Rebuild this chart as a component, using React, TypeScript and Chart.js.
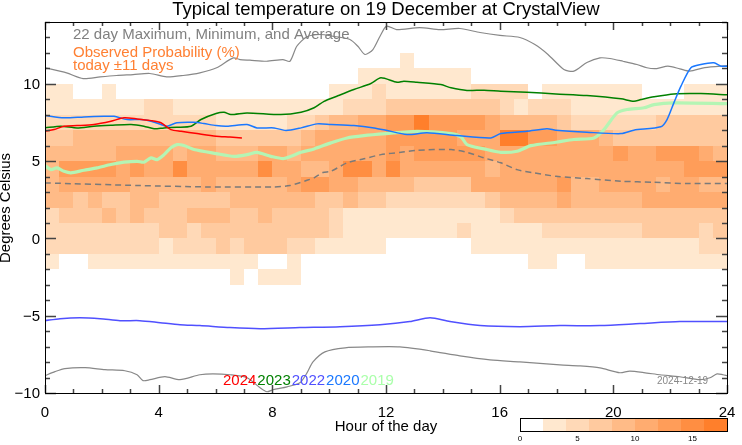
import React, { useEffect, useRef } from 'react';
import { Chart, registerables } from 'chart.js';

Chart.register(...registerables);

// ---------- DATA ----------
const titleText = 'Typical temperature on 19 December at CrystalView';
const xTickValues = [0, 4, 8, 12, 16, 20, 24];
const yTickValues = [-10, -5, 0, 5, 10];
const colorbarTicks = [0, 5, 10, 15];
const colorbarMax = 18;
const colorbarStep = 2;

// heat map column starts (hour of day), 0.5 h wide
const cellHours = [
  0, 0.5, 1, 1.5, 2, 2.5, 3, 3.5, 4, 4.5, 5, 5.5, 6, 6.5, 7, 7.5, 8, 8.5, 9, 9.5, 10, 10.5, 11, 11.5,
  12, 12.5, 13, 13.5, 14, 14.5, 15, 15.5, 16, 16.5, 17, 17.5, 18, 18.5, 19, 19.5, 20, 20.5, 21, 21.5, 22, 22.5, 23, 23.5,
];
// lower edge (deg C) of each 1-degree band
const tempBands = [-3, -2, -1, 0, 1, 2, 3, 4, 5, 6, 7, 8, 9, 10, 11];

// observed probability (%) per band, per half-hour column
const probM3 = [0,0,0,0,0,0,0,0,0,0,0,0, 0,3,0,3,3,3,0,0,0,0,0,0, 0,0,0,0,0,0,0,0,0,0,0,0, 0,0,0,0,0,0,0,0,0,0,0,0];
const probM2 = [3,0,0,3,3,3,3,3,3,3,3,3, 3,3,3,0,0,3,0,0,0,0,0,0, 0,0,0,0,0,0,0,0,0,0,3,3, 0,0,3,3,3,3,3,3,3,3,3,3];
const probM1 = [5,5,5,5,5,5,5,5,3,5,5,5, 7,5,7,7,7,5,5,3,3,3,3,3, 0,0,0,0,0,0,3,3,3,3,3,3, 3,3,3,3,3,3,3,3,3,3,5,5];
const prob0 = [5,5,5,5,5,5,5,5,7,7,5,7, 7,7,7,7,7,7,7,7,5,3,3,3, 3,3,3,3,3,5,3,3,3,3,3,5, 5,5,5,5,5,5,7,7,7,7,5,7];
const prob1 = [5,7,7,7,9,7,9,7,7,7,9,9, 9,7,7,9,7,7,7,7,5,3,3,3, 3,3,3,3,3,3,3,3,5,7,7,7, 7,7,7,7,7,7,7,7,7,7,7,7];
const prob2 = [9,9,7,9,7,7,9,9,7,7,7,7, 7,9,9,9,9,9,9,7,7,9,7,7, 5,5,5,5,5,5,5,7,9,9,9,9, 11,9,9,9,9,9,11,11,11,11,11,11];
const prob3 = [9,11,11,11,11,11,9,9,9,9,9,11, 9,9,9,9,9,11,13,13,11,11,9,9, 9,9,7,7,7,7,11,11,11,11,11,11, 13,9,9,11,11,11,11,9,11,11,9,9];
const prob4 = [9,13,13,13,13,11,13,11,11,15,11,11, 11,11,11,15,11,11,9,9,11,15,15,11, 15,11,11,11,11,11,11,9,11,11,11,11, 11,11,11,11,11,11,11,11,11,13,13,13];
const prob5 = [9,9,9,9,9,11,11,11,11,9,11,11, 9,9,9,11,11,9,11,11,11,11,11,11, 13,11,13,13,13,13,13,11,11,11,11,11, 11,11,11,11,13,11,11,13,13,13,11,9];
const prob6 = [7,7,9,9,9,9,9,9,9,9,9,9, 7,7,7,7,7,7,9,11,11,11,11,11, 13,13,13,13,13,11,11,11,17,17,13,13, 11,11,11,9,7,7,7,7,7,7,7,7];
const prob7 = [5,5,5,5,5,5,5,5,5,5,5,5, 3,3,3,3,3,5,5,7,9,9,11,11, 13,13,17,13,13,13,13,11,9,9,9,9, 7,5,5,5,5,5,5,7,7,7,7,7];
const prob8 = [3,3,3,3,3,3,3,5,5,3,3,3, 3,3,3,3,3,3,3,3,3,5,5,5, 7,7,7,7,7,7,7,7,5,3,5,5, 5,3,3,3,3,3,3,3,3,3,3,3];
const prob9 = [3,3,0,0,3,0,0,0,0,0,0,0, 0,0,0,0,0,0,0,0,3,3,3,5, 3,3,3,3,3,3,5,5,5,5,0,3, 3,3,3,3,3,3,0,0,0,3,3,3];
const prob10 = [0,0,0,0,0,0,0,0,0,0,0,0, 0,0,0,0,0,0,0,0,0,0,3,3, 3,3,3,3,3,3,0,0,0,0,0,0, 0,0,0,0,0,0,0,0,0,0,0,0];
const prob11 = [0,0,0,0,0,0,0,0,0,0,0,0, 0,0,0,0,0,0,0,0,0,0,0,0, 0,3,0,0,0,0,0,0,0,0,0,0, 0,0,0,0,0,0,0,0,0,0,0,0];
const probRows = [probM3, probM2, probM1, prob0, prob1, prob2, prob3, prob4, prob5, prob6, prob7, prob8, prob9, prob10, prob11];

// [hour, degC]
const maxLine = [
  [0, 11.04], [0.76, 10.71], [1.34, 10.34], [1.94, 10.45], [2.52, 10.54], [3.1, 10.6], [3.69, 10.67], [4.28, 10.45],
  [4.86, 10.54], [5.45, 10.71], [6.04, 11.04], [6.62, 11.68], [6.86, 11.57], [7.21, 11.53], [7.8, 11.46], [8.37, 11.57],
  [8.62, 11.46], [8.86, 12.43], [9.21, 13.04], [9.68, 13.19], [10.13, 13.08], [10.73, 12.87], [11.01, 12.43], [11.26, 11.9],
  [11.54, 12.22], [11.79, 13.08], [12.02, 13.73], [12.37, 13.51], [13.19, 13.64], [13.9, 13.51], [14.6, 13.58], [15.31, 13.32],
  [16.01, 13.13], [16.71, 13.0], [17.24, 12.54], [17.7, 11.9], [18.26, 10.93], [18.61, 10.82], [19.07, 11.38], [19.53, 11.68],
  [19.88, 11.64], [20.34, 11.46], [20.83, 11.25], [21.18, 11.04], [21.53, 10.99], [21.92, 11.14], [22.34, 10.97], [22.69, 10.82],
  [23.22, 11.05], [24, 11.18],
];
const minLine = [
  [0, -8.88], [0.35, -8.62], [0.7, -8.42], [1.41, -8.36], [2.11, -8.49], [2.81, -8.56], [3.24, -8.82], [3.45, -9.2],
  [3.69, -9.14], [4.22, -8.94], [4.75, -9.14], [5.45, -8.82], [5.91, -8.76], [6.51, -8.82], [7.11, -9.01], [7.57, -9.66],
  [7.81, -9.92], [8.02, -9.79], [8.52, -9.6], [8.97, -9.34], [9.22, -8.7], [9.43, -7.99], [9.85, -7.34], [10.56, -7.08],
  [11.44, -7.02], [12.49, -7.02], [13.55, -7.27], [14.6, -7.6], [15.66, -7.86], [16.71, -7.99], [18.12, -8.18], [18.82, -8.25],
  [19.53, -8.38], [20.23, -8.69], [20.58, -8.58], [21.18, -8.71], [21.64, -8.82], [22.34, -8.95], [23.05, -9.14], [23.4, -9.01],
  [23.65, -8.76], [23.86, -8.82], [24, -8.88],
];
const avgLine = [
  [0, 3.59], [3.34, 3.42], [5.7, 3.33], [8.02, 3.33], [8.62, 3.42], [9.22, 3.76], [9.47, 3.92], [9.78, 4.26], [10.06, 4.34],
  [10.63, 4.89], [11.22, 5.15], [11.82, 5.42], [12.53, 5.57], [13.09, 5.7], [14.29, 5.75], [14.85, 5.57], [15.45, 5.21],
  [16.04, 4.89], [16.61, 4.45], [17.21, 4.24], [17.98, 4.02], [19.07, 3.87], [20.27, 3.7], [21.43, 3.63], [22.59, 3.55], [24, 3.55],
];
const line2024 = [
  [0, 6.93], [0.32, 7.04], [0.67, 7.26], [1.13, 7.3], [1.72, 7.37], [2.32, 7.58], [2.78, 7.8], [3.24, 7.73], [3.73, 7.62],
  [4.08, 7.48], [4.43, 7.04], [4.79, 6.93], [5.35, 6.78], [6.02, 6.61], [6.51, 6.56], [6.93, 6.5],
];
const line2023 = [
  [0, 7.15], [0.56, 7.26], [1.13, 7.15], [1.72, 7.26], [2.32, 7.32], [3.03, 7.37], [3.48, 7.26], [3.84, 7.09], [4.19, 7.15],
  [4.64, 7.19], [5.14, 7.26], [5.49, 7.69], [6.02, 8.08], [6.3, 8.16], [6.54, 8.01], [7.11, 8.12], [8.3, 8.01], [9.01, 8.16],
  [9.47, 8.45], [9.82, 8.87], [10.27, 9.2], [10.87, 9.63], [11.47, 10.02], [11.82, 10.39], [12.39, 10.1], [12.63, 10.17],
  [13.09, 10.1], [13.93, 9.95], [14.29, 9.74], [14.85, 9.57], [15.45, 9.59], [16.04, 9.52], [16.96, 9.46], [17.98, 9.35],
  [19.07, 9.24], [20.27, 9.03], [20.72, 8.87], [20.97, 8.98], [21.43, 9.16], [22.13, 9.35], [23.08, 9.37], [24, 9.29],
];
const line2022 = [
  [0, -5.32], [0.53, -5.19], [1.23, -5.13], [1.94, -5.19], [2.64, -5.32], [3.34, -5.32], [4.05, -5.45], [4.75, -5.58],
  [5.45, -5.64], [6.51, -5.77], [7.57, -5.84], [8.97, -5.77], [10.38, -5.71], [11.79, -5.58], [12.84, -5.38], [13.55, -5.13],
  [14.25, -5.38], [15.31, -5.64], [16.71, -5.71], [18.12, -5.64], [19.53, -5.64], [20.94, -5.51], [22.34, -5.38], [24, -5.38],
];
const line2020 = [
  [0, 7.95], [0.67, 7.8], [1.37, 7.86], [2.08, 7.9], [2.43, 7.9], [2.89, 7.69], [3.38, 7.69], [3.73, 7.58], [4.08, 7.37],
  [4.29, 7.26], [4.64, 7.48], [5.24, 7.51], [5.59, 7.43], [6.02, 7.3], [6.4, 7.26], [7.11, 7.37], [7.46, 7.15], [8.06, 7.15],
  [8.48, 6.98], [9.01, 7.15], [9.57, 7.41], [10.06, 7.37], [10.87, 7.3], [11.58, 7.15], [12.0, 7.0], [12.74, 6.72],
  [13.44, 6.83], [14.5, 6.65], [15.69, 6.5], [16.04, 6.78], [16.96, 6.93], [17.66, 7.09], [17.98, 7.0], [19.07, 6.87],
  [20.27, 6.78], [20.72, 7.0], [21.67, 7.22], [21.89, 7.69], [22.13, 8.77], [22.38, 9.85], [22.73, 11.04], [23.08, 11.25],
  [23.54, 11.36], [23.79, 11.14], [24, 11.14],
];
const line2019 = [
  [0, 4.71], [0.21, 4.45], [0.42, 4.56], [0.67, 4.34], [0.91, 4.24], [1.37, 4.41], [1.83, 4.56], [2.32, 4.78], [2.78, 4.93],
  [3.24, 4.99], [3.48, 4.93], [3.73, 5.21], [3.94, 5.1], [4.19, 5.42], [4.43, 5.86], [4.64, 6.07], [4.89, 6.01], [5.24, 5.75],
  [6.02, 5.49], [6.65, 5.31], [7.11, 5.42], [7.46, 5.57], [7.95, 5.31], [8.41, 5.17], [9.01, 5.57], [9.47, 5.79], [10.06, 6.18],
  [10.63, 6.5], [11.22, 6.65], [12.0, 6.78], [13.09, 6.93], [14.29, 6.78], [14.64, 6.57], [14.85, 6.07], [15.45, 5.79],
  [16.04, 5.57], [16.61, 5.64], [17.1, 6.0], [17.98, 6.22], [18.61, 6.4], [19.32, 6.5], [19.67, 7.04], [20.13, 8.12],
  [20.48, 8.34], [21.08, 8.45], [21.43, 8.66], [22.13, 8.77], [24, 8.72],
];

const yearLabels = ['2024', '2023', '2022', '2020', '2019'];

// ---------- STYLES ----------
const FONT = '"Liberation Sans", Arial, Helvetica, sans-serif';
const palette = ['#ffffff', '#ffe8cf', '#ffd9b7', '#ffca9f', '#ffbb87', '#ffac70', '#ff9d59', '#ff8e42', '#ff7f2b'];
const yearColors = ['#ff0000', '#008000', '#5050ff', '#1a78ff', '#aaffaa'];

const toPts = (arr: number[][]) => arr.map(([x, y]) => ({ x, y }));

function binIndex(v: number) {
  return Math.min(palette.length - 1, Math.floor(v / colorbarStep));
}

const heatPlugin = {
  id: 'heat',
  beforeDatasetsDraw(chart: any) {
    const { ctx, scales } = chart;
    const xs = scales.x;
    const ys = scales.y;
    ctx.save();
    probRows.forEach((row, ri) => {
      const t0 = tempBands[ri];
      row.forEach((v, ci) => {
        const lvl = binIndex(v);
        if (lvl <= 0) return;
        const h0 = cellHours[ci];
        const xl = Math.round(xs.getPixelForValue(h0));
        const xr = Math.round(xs.getPixelForValue(h0 + 0.5));
        const yt = Math.round(ys.getPixelForValue(t0 + 1));
        const yb = Math.round(ys.getPixelForValue(t0));
        ctx.fillStyle = palette[lvl];
        ctx.fillRect(xl, yt, xr - xl, yb - yt);
      });
    });
    ctx.restore();
  },
};

const decorPlugin = {
  id: 'decor',
  afterDraw(chart: any) {
    const { ctx, chartArea: a, scales } = chart;
    const xs = scales.x;
    const ys = scales.y;
    ctx.save();
    // ticks (inward, all four sides)
    ctx.strokeStyle = '#444';
    ctx.lineWidth = 1.5;
    for (let h = 0; h <= 24; h++) {
      const px = Math.round(xs.getPixelForValue(h)) + 0.5;
      const len = h % 4 === 0 ? 8 : 4;
      ctx.beginPath();
      ctx.moveTo(px, a.bottom);
      ctx.lineTo(px, a.bottom - len);
      ctx.moveTo(px, a.top);
      ctx.lineTo(px, a.top + len);
      ctx.stroke();
    }
    for (let t = -10; t <= 14; t++) {
      const py = Math.round(ys.getPixelForValue(t)) + 0.5;
      const len = t % 5 === 0 ? 11 : 5;
      ctx.beginPath();
      ctx.moveTo(a.left, py);
      ctx.lineTo(a.left + len, py);
      ctx.moveTo(a.right, py);
      ctx.lineTo(a.right - len, py);
      ctx.stroke();
    }
    // frame
    ctx.strokeStyle = '#000';
    ctx.lineWidth = 1;
    ctx.strokeRect(Math.round(a.left) + 0.5, Math.round(a.top) + 0.5, Math.round(a.right - a.left), Math.round(a.bottom - a.top));

    // tick labels
    ctx.fillStyle = '#000';
    ctx.font = `15px ${FONT}`;
    ctx.textAlign = 'center';
    ctx.textBaseline = 'alphabetic';
    xTickValues.forEach((h) => {
      ctx.fillText(String(h), xs.getPixelForValue(h), a.bottom + 24);
    });
    ctx.textAlign = 'right';
    ctx.textBaseline = 'middle';
    yTickValues.forEach((t) => {
      const s = t < 0 ? '\u2212' + String(-t) : String(t);
      ctx.fillText(s, a.left - 5, ys.getPixelForValue(t) + 1);
    });

    // axis titles
    ctx.textAlign = 'center';
    ctx.textBaseline = 'alphabetic';
    ctx.fillText('Hour of the day', (a.left + a.right) / 2, 431);
    ctx.save();
    ctx.translate(10, 208);
    ctx.rotate(-Math.PI / 2);
    ctx.fillText('Degrees Celsius', 0, 0);
    ctx.restore();

    // title
    ctx.font = `18.5px ${FONT}`;
    ctx.fillText(titleText, (a.left + a.right) / 2, 15);

    // top-left legend
    ctx.textAlign = 'left';
    ctx.font = `15px ${FONT}`;
    ctx.fillStyle = '#808080';
    ctx.fillText('22 day Maximum, Minimum, and Average', 73, 39);
    ctx.fillStyle = '#ff8033';
    ctx.fillText('Observed Probability (%)', 73, 57);
    ctx.fillText('today \u00b111 days', 73, 70);

    // year legend
    ctx.font = `15px ${FONT}`;
    let lx = 223;
    yearLabels.forEach((lab, i) => {
      ctx.fillStyle = yearColors[i];
      ctx.fillText(lab, lx, 385);
      lx += ctx.measureText(lab).width + 1;
    });

    // date stamp
    ctx.font = `10px ${FONT}`;
    ctx.fillStyle = '#888';
    ctx.fillText('2024-12-19', 657, 384);

    // colour bar
    const cbL = 520;
    const cbR = 727;
    const cbT = 418;
    const cbB = 431;
    const nSeg = colorbarMax / colorbarStep;
    for (let i = 0; i < nSeg; i++) {
      const x0 = cbL + ((i * colorbarStep) / colorbarMax) * (cbR - cbL);
      const x1 = cbL + (((i + 1) * colorbarStep) / colorbarMax) * (cbR - cbL);
      ctx.fillStyle = palette[i];
      ctx.fillRect(Math.round(x0), cbT, Math.round(x1) - Math.round(x0), cbB - cbT);
    }
    ctx.strokeStyle = '#000';
    ctx.lineWidth = 1;
    ctx.strokeRect(cbL + 0.5, cbT + 0.5, cbR - cbL, cbB - cbT);
    ctx.fillStyle = '#000';
    ctx.font = `8px ${FONT}`;
    ctx.textAlign = 'center';
    colorbarTicks.forEach((v) => {
      ctx.fillText(String(v), cbL + (v / colorbarMax) * (cbR - cbL), 441);
    });
    ctx.restore();
  },
};

export default function App() {
  const ref = useRef<HTMLCanvasElement | null>(null);
  useEffect(() => {
    document.body.style.margin = '0';
    const canvas = ref.current;
    if (!canvas) return;
    const lineDs = (label: string, data: number[][], color: string, width: number, order: number, extra: any = {}) => ({
      label,
      data: toPts(data),
      borderColor: color,
      backgroundColor: color,
      borderWidth: width,
      pointRadius: 0,
      tension: 0.25,
      fill: false,
      order,
      ...extra,
    });
    const chart = new Chart(canvas, {
      type: 'line',
      data: {
        datasets: [
          lineDs('2024', line2024, yearColors[0], 1.5, 1),
          lineDs('2020', line2020, yearColors[3], 1.5, 2),
          lineDs('2023', line2023, yearColors[1], 1.5, 3),
          lineDs('2019', line2019, '#b4f5b4', 3.2, 4),
          lineDs('2022', line2022, yearColors[2], 1.5, 5),
          lineDs('Average', avgLine, '#7a7a7a', 1.5, 6, { borderDash: [6, 4] }),
          lineDs('Maximum', maxLine, '#888888', 1.2, 7),
          lineDs('Minimum', minLine, '#888888', 1.2, 8),
        ],
      },
      options: {
        animation: false,
        responsive: false,
        maintainAspectRatio: false,
        devicePixelRatio: 1,
        layout: { padding: { left: 45, right: 15, top: 22, bottom: 52 } },
        scales: {
          x: { type: 'linear', min: 0, max: 24, display: false },
          y: { type: 'linear', min: -10, max: 14, display: false },
        },
        plugins: {
          legend: { display: false },
          tooltip: { enabled: false },
          title: { display: false },
        },
        events: [],
      },
      plugins: [heatPlugin, decorPlugin],
    });
    return () => chart.destroy();
  }, []);
  return (
    <div style={{ width: 742, height: 445, position: 'relative', background: '#fff' }}>
      <canvas ref={ref} width={742} height={445} style={{ display: 'block' }} />
    </div>
  );
}
